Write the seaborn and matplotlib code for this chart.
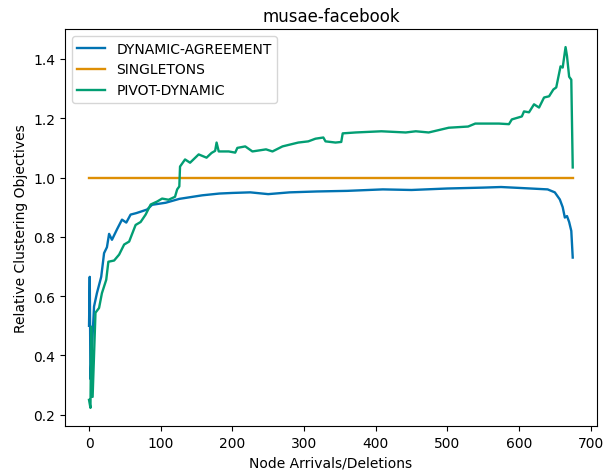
import pandas as pd
import seaborn as sns
import matplotlib
matplotlib.use("Agg")
import matplotlib.pyplot as plt

# values
agree_x = [0, 1, 2, 4, 7, 11, 17, 21, 25, 28, 32, 39, 46, 52, 58, 66, 81, 88, 107, 126,
           158, 182, 200, 225, 250, 280, 318, 360, 410, 450, 500, 550, 575, 600, 640,
           650, 657, 661, 664, 667, 670, 673, 675]
agree_y = [0.50, 0.665, 0.32, 0.42, 0.565, 0.61, 0.665, 0.745, 0.765, 0.81, 0.79, 0.825,
           0.858, 0.848, 0.875, 0.88, 0.892, 0.908, 0.915, 0.928, 0.94, 0.946, 0.948, 0.95,
           0.944, 0.95, 0.953, 0.955, 0.96, 0.958, 0.963, 0.966, 0.968, 0.965, 0.96, 0.95,
           0.926, 0.90, 0.865, 0.87, 0.85, 0.82, 0.73]

single_x = [0, 675]
single_y = [1.0, 1.0]

pivot_x = [0, 2, 3, 5, 9, 14, 18, 24, 27, 35, 42, 49, 56, 65, 72, 79, 86, 95, 102, 111,
           120, 123, 126, 127, 134, 141, 153, 164, 171, 176, 178, 181, 195, 204, 207, 218,
           228, 247, 256, 270, 292, 306, 316, 327, 330, 344, 352, 354, 372, 408, 442, 456,
           474, 502, 529, 539, 572, 586, 590, 604, 607, 614, 621, 628, 635, 642, 648, 652,
           658, 661, 665, 667, 670, 673, 675]
pivot_y = [0.25, 0.223, 0.497, 0.26, 0.544, 0.56, 0.61, 0.655, 0.716, 0.72, 0.74, 0.774,
           0.784, 0.84, 0.85, 0.875, 0.909, 0.919, 0.929, 0.925, 0.935, 0.96, 0.97, 1.037,
           1.061, 1.05, 1.078, 1.067, 1.083, 1.09, 1.118, 1.088, 1.088, 1.084, 1.10, 1.105,
           1.088, 1.095, 1.088, 1.105, 1.118, 1.122, 1.131, 1.135, 1.122, 1.118, 1.12, 1.149,
           1.152, 1.156, 1.152, 1.156, 1.152, 1.168, 1.172, 1.182, 1.182, 1.18, 1.196, 1.206,
           1.223, 1.22, 1.247, 1.236, 1.27, 1.274, 1.297, 1.304, 1.375, 1.371, 1.44, 1.41,
           1.34, 1.33, 1.034]

series_names = ["DYNAMIC-AGREEMENT", "SINGLETONS", "PIVOT-DYNAMIC"]

df = pd.concat([
    pd.DataFrame({"step": agree_x, "value": agree_y, "method": series_names[0]}),
    pd.DataFrame({"step": single_x, "value": single_y, "method": series_names[1]}),
    pd.DataFrame({"step": pivot_x, "value": pivot_y, "method": series_names[2]}),
])

fig, ax = plt.subplots(figsize=(6.06, 4.77), dpi=100)
fig.subplots_adjust(left=0.107, right=0.985, top=0.937, bottom=0.105)

sns.lineplot(data=df, x="step", y="value", hue="method", hue_order=series_names,
             palette="colorblind", estimator=None, sort=False, linewidth=1.7, ax=ax)

ax.legend(loc="upper left")
ax.set_title("musae-facebook")
ax.set_xlabel("Node Arrivals/Deletions")
ax.set_ylabel("Relative Clustering Objectives")

plt.savefig("out.png", dpi=100)
